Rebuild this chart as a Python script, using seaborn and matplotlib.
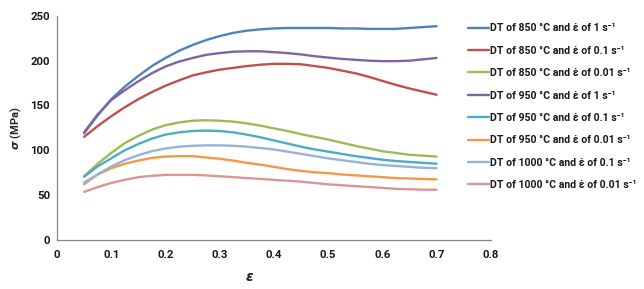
import pandas as pd
import numpy as np
import seaborn as sns
import matplotlib.pyplot as plt
from matplotlib.ticker import MultipleLocator

# deformacion (eje x)
strain = [0.05, 0.075, 0.1, 0.125, 0.15, 0.175, 0.2, 0.225, 0.25, 0.275, 0.3, 0.325, 0.35,
          0.375, 0.4, 0.425, 0.45, 0.475, 0.5, 0.525, 0.55, 0.575, 0.6, 0.625, 0.65, 0.675, 0.7]

# tension (MPa)
s850_1 = [119, 139, 157, 171, 183, 194, 203, 211, 217.5, 223, 227.5, 231, 233.5,
          235, 236, 236.5, 236.5, 236.5, 236.5, 236, 236, 235.5, 235.5, 235.5, 236.5, 237.5, 238.5]
s850_01 = [115, 127, 138, 148, 157, 165, 172, 178, 183.5, 187, 190, 192, 194,
           195.5, 196.5, 196.5, 196, 194, 192, 189, 186, 182, 177.5, 173, 169, 165.5, 162]
s850_001 = [71, 85, 97, 108, 116, 123, 128, 131, 133, 133.5, 133, 132, 130,
            127.5, 124.5, 121.5, 118, 115, 112, 108.5, 105, 102, 99, 97, 95, 94, 93]
s950_1 = [120, 140, 156, 167, 177, 186, 193.5, 199, 203, 206.5, 208.5, 210, 210.5,
          210.5, 209.5, 208.5, 207, 205, 203.5, 202, 201, 200, 199.5, 199.5, 200, 201.5, 203]
s950_01 = [70.5, 82, 91, 100, 107, 113, 117.5, 120, 121.5, 122, 121.5, 120, 117.5,
           114.5, 111, 107.5, 104, 101, 98.5, 96, 93.5, 91.5, 89.5, 88, 87, 86, 85]
s950_001 = [64, 73, 80, 85, 88.5, 91.5, 93, 93.5, 93.5, 92, 90.5, 88.5, 86,
            84, 81.5, 79, 77, 75.5, 74.5, 73, 72, 71, 70, 69, 68.5, 68, 67.5]
s1000_01 = [62, 73, 82, 89, 94.5, 99, 102, 104, 105, 105.5, 105.5, 105, 104,
            102.5, 101, 98.5, 96, 93.5, 91, 89, 87, 85, 83.5, 82.5, 81.5, 80.5, 80]
s1000_001 = [53.5, 59, 63.5, 67, 70, 71.5, 72.5, 72.5, 72.5, 72, 71, 70, 69,
             68, 67, 66, 65, 63.5, 62, 61, 60, 59, 58, 57, 56.5, 56, 56]

labels = ["DT of 850 °C and ε\u0307 of 1 s⁻¹",
          "DT of 850 °C and ε\u0307 of 0.1 s⁻¹",
          "DT of 850 °C and ε\u0307 of 0.01 s⁻¹",
          "DT of 950 °C and ε\u0307 of 1 s⁻¹",
          "DT of 950 °C and ε\u0307 of 0.1 s⁻¹",
          "DT of 950 °C and ε\u0307 of 0.01 s⁻¹",
          "DT of 1000 °C and ε\u0307 of 0.1 s⁻¹",
          "DT of 1000 °C and ε\u0307 of 0.01 s⁻¹"]
series = [s850_1, s850_01, s850_001, s950_1, s950_01, s950_001, s1000_01, s1000_001]
colores = ["#4F81BD", "#C0504D", "#9BBB59", "#8064A2",
           "#4BACC6", "#F79646", "#95B3D7", "#D99694"]

filas = []
for lab, vals in zip(labels, series):
    for x, y in zip(strain, vals):
        filas.append({"strain": x, "stress": y, "serie": lab})
datos = pd.DataFrame(filas)

sns.set_style("white")
plt.rcParams['font.family'] = ['Roboto', 'DejaVu Sans']
plt.rcParams['font.weight'] = 'bold'
plt.rcParams['mathtext.fontset'] = 'dejavusans'

fig = plt.figure(figsize=(6.44, 2.89), dpi=100)
ax = fig.add_axes([0.0885, 0.170, 0.6735, 0.775])

sns.lineplot(data=datos, x="strain", y="stress", hue="serie", hue_order=labels,
             palette=colores, linewidth=1.7, ax=ax)

ax.set_xlim(0, 0.8)
ax.set_ylim(0, 250)
ax.xaxis.set_minor_locator(MultipleLocator(0.02))
ax.yaxis.set_major_locator(MultipleLocator(50))
ax.yaxis.set_minor_locator(MultipleLocator(10))
ax.set_xticks(np.arange(0, 0.81, 0.1))
ax.set_xticklabels(["0", "0.1", "0.2", "0.3", "0.4", "0.5", "0.6", "0.7", "0.8"])
ax.tick_params(which='major', direction='in', length=4, width=0.8, color="#868686",
               labelsize=8.2, pad=7, labelcolor="#1a1a1a")
ax.tick_params(which='minor', direction='in', length=2.5, width=0.8, color="#868686")
ax.tick_params(axis='y', pad=5)
for t in ax.get_xticklabels() + ax.get_yticklabels():
    t.set_fontweight('bold')
for lado in ["top", "right"]:
    ax.spines[lado].set_visible(False)
for lado in ["left", "bottom"]:
    ax.spines[lado].set_color("#868686")
    ax.spines[lado].set_linewidth(0.9)

ax.set_xlabel(r"$\varepsilon$", fontsize=10)
ax.xaxis.set_label_coords(0.445, -0.135)
ax.set_ylabel(r"$\sigma$ (MPa)", fontsize=8, fontweight='bold', labelpad=5)

leg = ax.legend(loc="upper left", bbox_to_anchor=(0.938, 0.985), frameon=False,
                fontsize=7.6, labelspacing=1.17, handlelength=2.0, handletextpad=0.1,
                borderaxespad=0)
for h in leg.get_lines():
    h.set_linewidth(1.7)
for t in leg.get_texts():
    t.set_fontweight('bold')
    t.set_color("#1a1a1a")

fig.savefig("out.png", dpi=100)
